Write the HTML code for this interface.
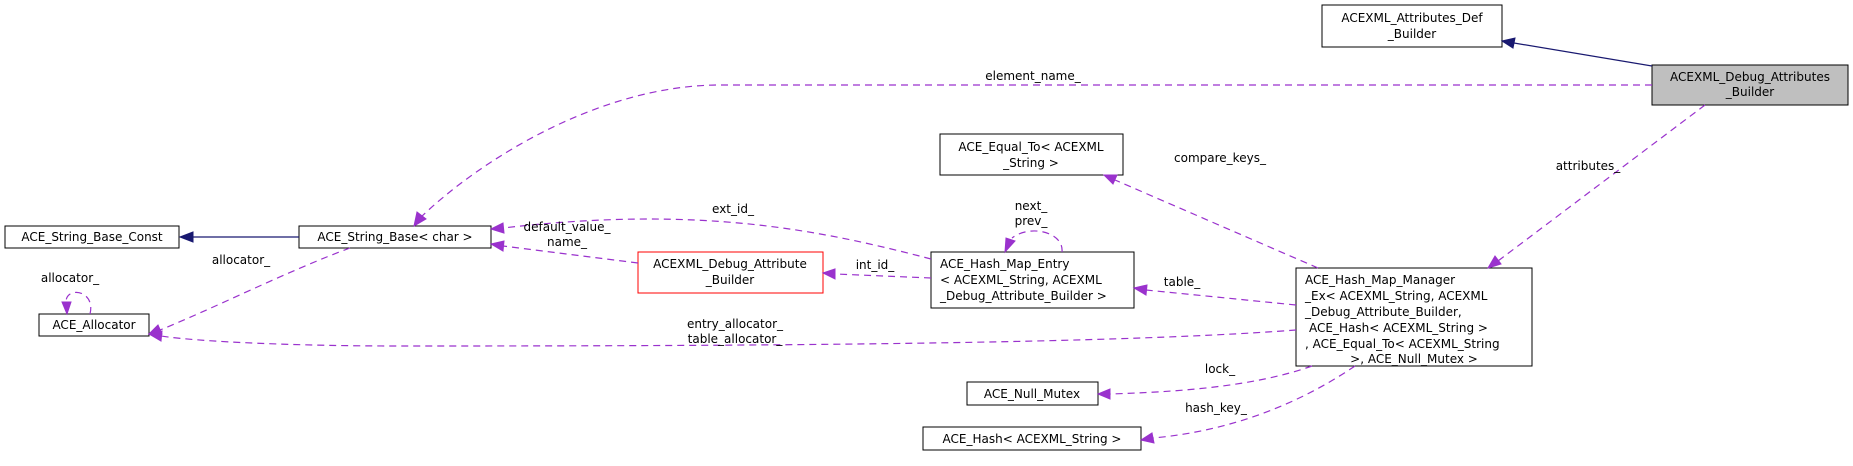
<!DOCTYPE html>
<html><head><meta charset="utf-8"><style>
html,body{margin:0;padding:0;background:#fff;}
svg{display:block;}
text{font-family:"DejaVu Sans","Liberation Sans",sans-serif;font-size:12px;fill:#000;}
.b{fill:#fff;stroke:#000;stroke-width:1;}
.d{fill:none;stroke:#9a32cd;stroke-width:1.2;stroke-dasharray:7,5;}
.s{fill:none;stroke:#191970;stroke-width:1.2;}
.pa{fill:#9a32cd;stroke:#9a32cd;}
.na{fill:#191970;stroke:#191970;}
</style></head><body>
<svg width="1853" height="466" viewBox="0 0 1853 466" xmlns="http://www.w3.org/2000/svg">
<rect class="b" x="1322" y="5" width="180" height="42"/>
<text x="1412" y="22" text-anchor="middle">ACEXML_Attributes_Def</text>
<text x="1412" y="38" text-anchor="middle">_Builder</text>

<rect x="1652" y="65" width="196" height="40" fill="#bfbfbf" stroke="#000"/>
<text x="1750" y="81" text-anchor="middle">ACEXML_Debug_Attributes</text>
<text x="1750" y="96" text-anchor="middle">_Builder</text>

<rect class="b" x="5" y="226" width="174" height="22"/>
<text x="92" y="241" text-anchor="middle">ACE_String_Base_Const</text>

<rect class="b" x="299" y="226" width="192" height="22"/>
<text x="395" y="241" text-anchor="middle">ACE_String_Base&lt; char &gt;</text>

<rect class="b" x="39" y="314" width="110" height="22"/>
<text x="94" y="329" text-anchor="middle">ACE_Allocator</text>

<rect x="638" y="252" width="185" height="41" fill="#fff" stroke="#ff0000"/>
<text x="730" y="268" text-anchor="middle">ACEXML_Debug_Attribute</text>
<text x="730" y="284" text-anchor="middle">_Builder</text>

<rect class="b" x="931" y="252" width="203" height="56"/>
<text x="940" y="268">ACE_Hash_Map_Entry</text>
<text x="940" y="284">&lt; ACEXML_String, ACEXML</text>
<text x="940" y="300">_Debug_Attribute_Builder &gt;</text>

<rect class="b" x="940" y="134" width="183" height="41"/>
<text x="1031" y="151" text-anchor="middle">ACE_Equal_To&lt; ACEXML</text>
<text x="1031" y="167" text-anchor="middle">_String &gt;</text>

<rect class="b" x="1296" y="268" width="236" height="98"/>
<text x="1305" y="284">ACE_Hash_Map_Manager</text>
<text x="1305" y="300">_Ex&lt; ACEXML_String, ACEXML</text>
<text x="1305" y="316">_Debug_Attribute_Builder,</text>
<text x="1309" y="332"> ACE_Hash&lt; ACEXML_String &gt;</text>
<text x="1305" y="348">, ACE_Equal_To&lt; ACEXML_String</text>
<text x="1414" y="363" text-anchor="middle">&gt;, ACE_Null_Mutex &gt;</text>

<rect class="b" x="967" y="382" width="131" height="23"/>
<text x="1032" y="398" text-anchor="middle">ACE_Null_Mutex</text>

<rect class="b" x="923" y="427" width="218" height="23"/>
<text x="1032" y="443" text-anchor="middle">ACE_Hash&lt; ACEXML_String &gt;</text>

<path class="s" d="M1652,66 L1514,43"/>
<polygon class="na" points="1502,41 1515,38 1513,48"/>
<path class="s" d="M299,237 L192,237"/>
<polygon class="na" points="180,237 193,232 193,242"/>

<path class="d" d="M1652,85 L720,85 C600,85 480,160 420,218"/>
<polygon class="pa" points="414,226 417,212 426,219"/>
<text x="1033" y="80" text-anchor="middle">element_name_</text>

<path class="d" d="M1705,105 L1498,261"/>
<polygon class="pa" points="1488,268 1495,256 1501,264"/>
<text x="1588" y="170" text-anchor="middle">attributes_</text>

<path class="d" d="M1318,268 L1115,180"/>
<polygon class="pa" points="1104,175 1117,175 1113,184"/>
<text x="1220" y="162" text-anchor="middle">compare_keys_</text>

<path class="d" d="M1296,305 L1146,290"/>
<polygon class="pa" points="1134,288 1147,285 1146,295"/>
<text x="1182" y="286" text-anchor="middle">table_</text>

<path class="d" d="M1296,330 C1100,345 700,346 400,346 C300,346 200,342 161,336"/>
<polygon class="pa" points="149,334 162,331 161,341"/>
<text x="735" y="328" text-anchor="middle">entry_allocator_</text>
<text x="735" y="343" text-anchor="middle">table_allocator_</text>

<path class="d" d="M1312,366 C1250,388 1170,392 1110,394"/>
<polygon class="pa" points="1098,394 1110,389 1110,399"/>
<text x="1220" y="373" text-anchor="middle">lock_</text>

<path class="d" d="M1355,366 C1290,410 1220,432 1153,438"/>
<polygon class="pa" points="1141,440 1152,433 1154,443"/>
<text x="1216" y="412" text-anchor="middle">hash_key_</text>

<path class="d" d="M931,278 L835,274"/>
<polygon class="pa" points="823,273 835,269 835,279"/>
<text x="875" y="269" text-anchor="middle">int_id_</text>

<path class="d" d="M931,259 C820,230 700,205 503,228"/>
<polygon class="pa" points="491,229 503,223 504,233"/>
<text x="733" y="213" text-anchor="middle">ext_id_</text>

<path class="d" d="M1062,252 C1064,232 1030,224 1012,238"/>
<polygon class="pa" points="1005,252 1006,238 1015,241"/>
<text x="1031" y="210" text-anchor="middle">next_</text>
<text x="1031" y="225" text-anchor="middle">prev_</text>

<path class="d" d="M638,263 L503,246"/>
<polygon class="pa" points="491,244 504,241 503,251"/>
<text x="567" y="231" text-anchor="middle">default_value_</text>
<text x="567" y="246" text-anchor="middle">name_</text>

<path class="d" d="M350,248 C290,270 210,310 160,330"/>
<polygon class="pa" points="149,334 158,325 162,334"/>
<text x="241" y="264" text-anchor="middle">allocator_</text>

<path class="d" d="M90,314 C96,290 66,286 66,302"/>
<polygon class="pa" points="67,314 62,302 71,302"/>
<text x="70" y="282" text-anchor="middle">allocator_</text>
</svg>
</body></html>
